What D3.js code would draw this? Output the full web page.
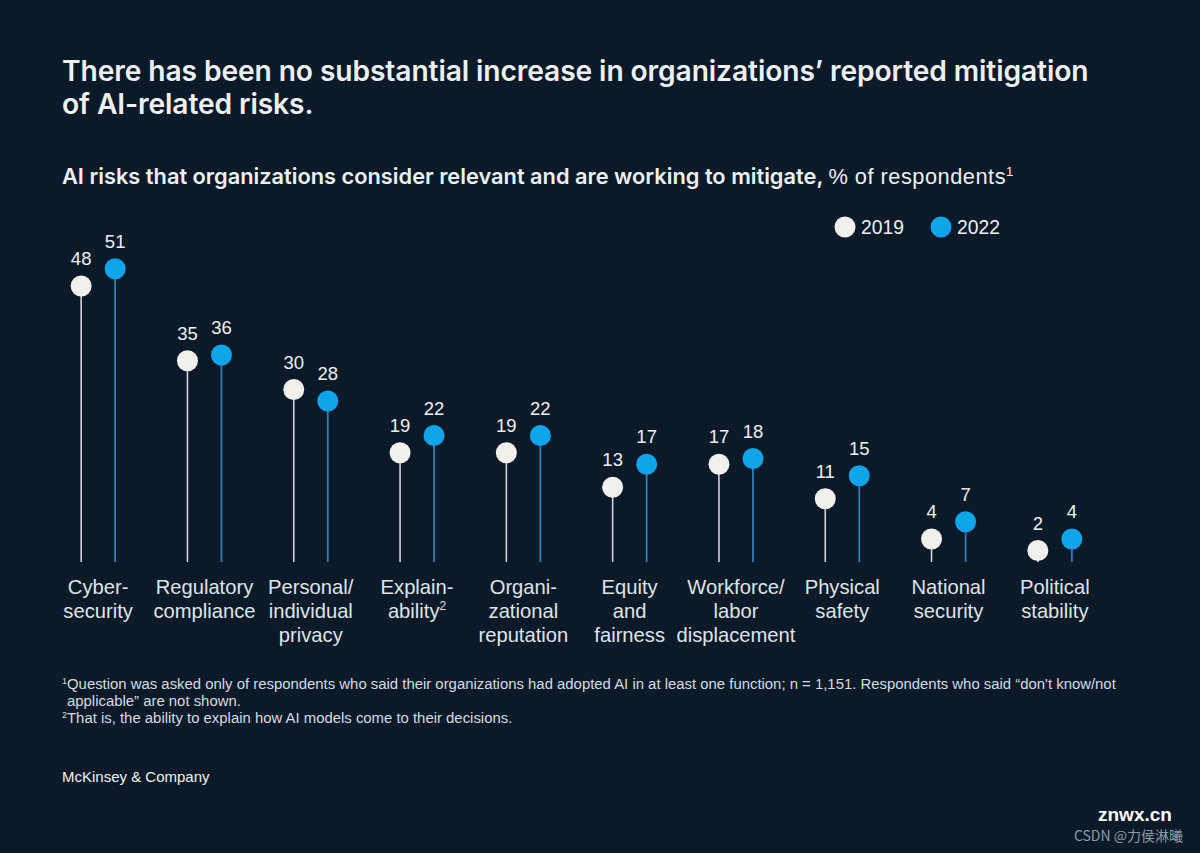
<!DOCTYPE html>
<html><head><meta charset="utf-8">
<script src="https://cdn.jsdelivr.net/npm/d3@7"></script>
<style>
html,body{margin:0;padding:0;background:#0b1a29;}
svg{display:block;}
</style></head>
<body>
<svg id="chart" width="1200" height="853"></svg>
<script>
const categories = [
  ["Cyber-","security"],
  ["Regulatory","compliance"],
  ["Personal/","individual","privacy"],
  ["Explain-","ability²"],
  ["Organi-","zational","reputation"],
  ["Equity","and","fairness"],
  ["Workforce/","labor","displacement"],
  ["Physical","safety"],
  ["National","security"],
  ["Political","stability"]
];
const values2019 = [48, 35, 30, 19, 19, 13, 17, 11, 4, 2];
const values2022 = [51, 36, 28, 22, 22, 17, 18, 15, 7, 4];
const seriesNames = ["2019", "2022"];

const W = 1200, H = 853;
const svg = d3.select("#chart");
const bg = "#0b1a29";
svg.append("rect").attr("width", W).attr("height", H).attr("fill", bg);

const fontBody = "'Liberation Sans', Arial, sans-serif";
const fontHead = "Inter, 'Noto Sans', sans-serif";
const white = "#eef1f4";
const blue = "#0ea5ea";
const blueStem = "#2b7fbb";
const greyStem = "#cfd4d9";

// Title
const title = svg.append("text").attr("x", 62).attr("y", 81)
  .attr("fill", white).attr("font-family", fontHead).attr("font-weight", 600)
  .attr("font-size", 28.2).attr("letter-spacing", -0.1);
title.append("tspan").attr("x", 62).attr("dy", 0).text("There has been no substantial increase in organizations’ reported mitigation");
title.append("tspan").attr("x", 62).attr("dy", 33).text("of AI-related risks.");

// Subtitle
const sub = svg.append("text").attr("x", 62).attr("y", 184)
  .attr("fill", white).attr("font-family", fontHead).attr("font-size", 21.8);
sub.append("tspan").attr("font-weight", 600).text("AI risks that organizations consider relevant and are working to mitigate, ");
sub.append("tspan").attr("font-weight", 400).attr("font-family", fontBody).attr("letter-spacing", 0.5).text("% of respondents");
sub.append("tspan").attr("font-family", fontBody).attr("font-size", 13).attr("dy", -8).text("1");

// Scales
const x = d3.scaleBand().domain(d3.range(categories.length)).range([45, 1108]).paddingInner(0).paddingOuter(0);
const y = d3.scaleLinear().domain([0, 51]).range([562, 562 - 51 * 5.75]);
const off = 17;

const g = svg.append("g");
const groups = g.selectAll("g.cat").data(categories.map((c, i) => ({c, i, a: values2019[i], b: values2022[i]})))
  .enter().append("g").attr("class", "cat")
  .attr("transform", d => `translate(${x(d.i) + x.bandwidth() / 2},0)`);

// stems
groups.append("line").attr("x1", -off).attr("x2", -off).attr("y1", y(0)).attr("y2", d => y(d.a))
  .attr("stroke", greyStem).attr("stroke-width", 1.6);
groups.append("line").attr("x1", off).attr("x2", off).attr("y1", y(0)).attr("y2", d => y(d.b))
  .attr("stroke", blueStem).attr("stroke-width", 1.8);
// dots
groups.append("circle").attr("cx", -off).attr("cy", d => y(d.a)).attr("r", 10.5).attr("fill", "#f1f0ec");
groups.append("circle").attr("cx", off).attr("cy", d => y(d.b)).attr("r", 10.5).attr("fill", blue);
// value labels
groups.append("text").attr("x", -off).attr("y", d => y(d.a) - 21).attr("text-anchor", "middle")
  .attr("fill", white).attr("font-family", fontBody).attr("font-size", 18.5).text(d => d.a);
groups.append("text").attr("x", off).attr("y", d => y(d.b) - 21).attr("text-anchor", "middle")
  .attr("fill", white).attr("font-family", fontBody).attr("font-size", 18.5).text(d => d.b);

// category labels
groups.each(function(d) {
  const t = d3.select(this).append("text").attr("text-anchor", "middle")
    .attr("fill", "#dfe4ea").attr("font-family", fontBody).attr("font-size", 20.2);
  d.c.forEach((line, k) => {
    const ts = t.append("tspan").attr("x", 0).attr("y", 594 + k * 24);
    if (line.endsWith("²")) {
      ts.text(line.slice(0, -1));
      t.append("tspan").attr("font-size", 12).attr("dy", -8).text("2");
    } else ts.text(line);
  });
});

// legend
const leg = svg.append("g").attr("transform", "translate(845,227)");
seriesNames.forEach((s, i) => {
  const lx = i * 96;
  leg.append("circle").attr("cx", lx).attr("cy", 0).attr("r", 10.5).attr("fill", i === 0 ? "#f1f0ec" : blue);
  leg.append("text").attr("x", lx + 16).attr("y", 7).attr("fill", white)
    .attr("font-family", fontBody).attr("font-size", 19.3).text(s);
});

// footnotes
const fnLines = [
  {x: 62, y: 689, sup: "1", t: "Question was asked only of respondents who said their organizations had adopted AI in at least one function; n = 1,151. Respondents who said “don't know/not"},
  {x: 67, y: 706, sup: "", t: "applicable” are not shown."},
  {x: 62, y: 723, sup: "2", t: "That is, the ability to explain how AI models come to their decisions."}
];
fnLines.forEach(l => {
  const tl = svg.append("text").attr("x", l.x).attr("y", l.y).attr("fill", "#d5dbe1")
    .attr("font-family", fontBody).attr("font-size", 14.9);
  if (l.sup) tl.append("tspan").attr("font-size", 9).attr("dy", -5).text(l.sup);
  tl.append("tspan").attr("dy", l.sup ? 5 : 0).text(l.t);
});

svg.append("text").attr("x", 62).attr("y", 782).attr("fill", white)
  .attr("font-family", fontBody).attr("font-size", 15).text("McKinsey & Company");

// watermark
svg.append("text").attr("x", 1183).attr("y", 841).attr("text-anchor", "end").attr("fill", "#8e9aa6")
  .attr("font-family", "'Noto Sans CJK SC', sans-serif").attr("font-size", 14).text("CSDN @力侯淋曦");
svg.append("text").attr("x", 1098).attr("y", 821).attr("fill", "#ffffff")
  .attr("font-family", fontBody).attr("font-weight", 700).attr("font-size", 19).text("znwx.cn");
</script>
</body></html>
